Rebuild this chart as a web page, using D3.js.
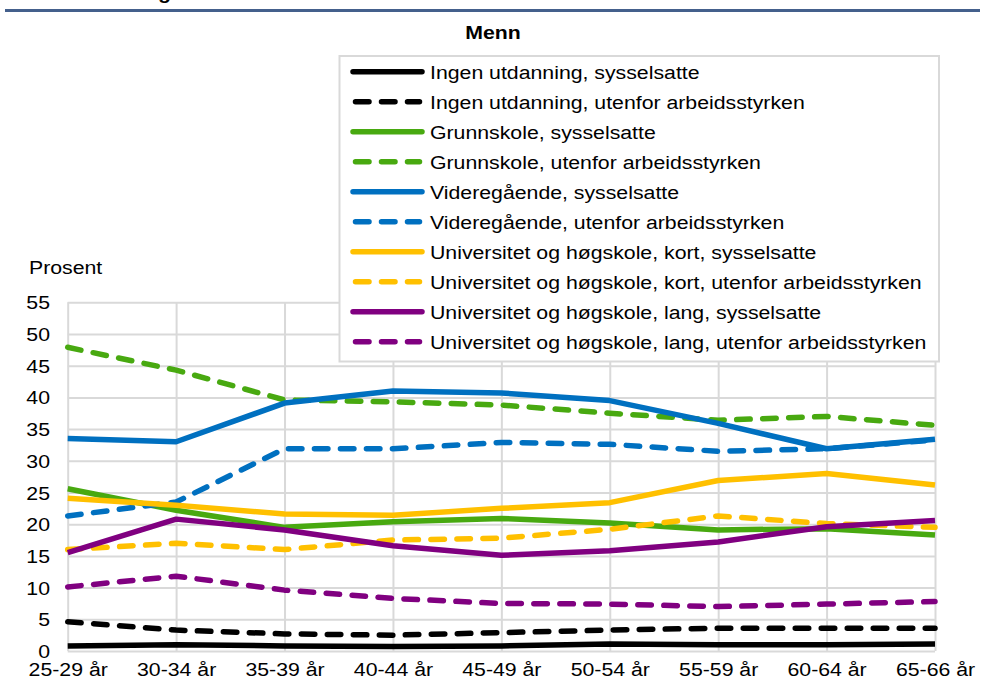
<!DOCTYPE html>
<html>
<head>
<meta charset="utf-8">
<script src="https://cdn.jsdelivr.net/npm/d3@7"></script>
<style>
  html, body { margin: 0; padding: 0; background: #fff; }
  svg { display: block; font-family: "Liberation Sans", Arial, sans-serif; }
</style>
</head>
<body>
<svg id="chart" width="982" height="680"></svg>
<script>
// ---- Data ----
const categories = ["25-29 år","30-34 år","35-39 år","40-44 år","45-49 år","50-54 år","55-59 år","60-64 år","65-66 år"];
const yTicks = [0,5,10,15,20,25,30,35,40,45,50,55];

const seriesNames = [
  "Ingen utdanning, sysselsatte",
  "Ingen utdanning, utenfor arbeidsstyrken",
  "Grunnskole, sysselsatte",
  "Grunnskole, utenfor arbeidsstyrken",
  "Videregående, sysselsatte",
  "Videregående, utenfor arbeidsstyrken",
  "Universitet og høgskole, kort, sysselsatte",
  "Universitet og høgskole, kort, utenfor arbeidsstyrken",
  "Universitet og høgskole, lang, sysselsatte",
  "Universitet og høgskole, lang, utenfor arbeidsstyrken"
];
const ingenSyss   = [0.8, 1.0, 0.8, 0.7, 0.8, 1.1, 1.0, 1.0, 1.1];
const ingenUtenf  = [4.6, 3.3, 2.7, 2.5, 2.9, 3.3, 3.6, 3.6, 3.6];
const grunnSyss   = [25.6, 22.2, 19.5, 20.4, 20.9, 20.2, 19.1, 19.3, 18.3];
const grunnUtenf  = [47.9, 44.3, 39.6, 39.3, 38.8, 37.5, 36.4, 37.0, 35.6];
const vgsSyss     = [33.5, 33.0, 39.1, 41.0, 40.7, 39.5, 35.9, 31.9, 33.4];
const vgsUtenf    = [21.3, 23.5, 31.9, 31.9, 32.9, 32.6, 31.5, 31.9, 33.3];
const uhKortSyss  = [24.1, 23.0, 21.6, 21.4, 22.5, 23.4, 26.9, 28.0, 26.2];
const uhKortUtenf = [16.0, 17.0, 16.0, 17.5, 17.8, 19.2, 21.3, 20.1, 19.5];
const uhLangSyss  = [15.5, 20.8, 19.1, 16.6, 15.1, 15.8, 17.2, 19.6, 20.6];
const uhLangUtenf = [10.1, 11.8, 9.6, 8.3, 7.5, 7.4, 7.0, 7.4, 7.8];

const seriesValues = [ingenSyss, ingenUtenf, grunnSyss, grunnUtenf, vgsSyss, vgsUtenf,
                      uhKortSyss, uhKortUtenf, uhLangSyss, uhLangUtenf];
const seriesColors = ["#000000","#000000","#48a910","#48a910","#0070c0","#0070c0",
                      "#ffc000","#ffc000","#800080","#800080"];
const seriesDashed = [false,true,false,true,false,true,false,true,false,true];

// ---- Layout ----
const svg = d3.select("#chart");
const plotL = 67.7, plotR = 935, plotT = 302.3, plotB = 651;
const fs = 19, sx = 1.12;   // font size and horizontal stretch
const gridColor = "#d9d9d9";

const x = d3.scalePoint().domain(categories).range([plotL, plotR]);
const y = d3.scaleLinear().domain([0, 55]).range([plotB, plotT]);

// Header rule and clipped heading remnant
svg.append("rect").attr("x", 5).attr("y", 9).attr("width", 975).attr("height", 3).attr("fill", "#44608c");
svg.append("text").attr("transform", "translate(158,-1) scale(" + sx + ",1)")
  .attr("font-size", fs).attr("font-weight", "bold").text("g");

// Title
svg.append("text").attr("transform", "translate(493,39) scale(" + sx + ",1)")
  .attr("text-anchor", "middle").attr("font-size", fs).attr("font-weight", "bold").text("Menn");

// Y-axis label
svg.append("text").attr("transform", "translate(29,274) scale(" + sx + ",1)")
  .attr("font-size", fs).text("Prosent");

// Horizontal gridlines + y labels
const yAxis = svg.append("g").attr("transform", `translate(${plotL},0)`)
  .call(d3.axisLeft(y).tickValues(yTicks).tickSize(-(plotR - plotL)).tickPadding(0));
yAxis.select(".domain").remove();
yAxis.selectAll(".tick line").attr("stroke", gridColor).attr("stroke-width", 2);
yAxis.selectAll(".tick text")
  .attr("x", null).attr("dy", null)
  .attr("transform", `translate(${50 - plotL},6.5) scale(${sx},1)`)
  .attr("text-anchor", "end").attr("fill", "#000")
  .attr("font-size", fs).attr("font-family", "'Liberation Sans', Arial, sans-serif");

// Vertical gridlines + x labels
const xAxis = svg.append("g").attr("transform", `translate(0,${plotB})`)
  .call(d3.axisBottom(x).tickSize(-(plotB - plotT)).tickPadding(0));
xAxis.select(".domain").remove();
xAxis.selectAll(".tick line").attr("stroke", gridColor).attr("stroke-width", 2);
xAxis.selectAll(".tick text")
  .attr("y", null).attr("dy", null)
  .attr("transform", `translate(0,24.5) scale(${sx},1)`)
  .attr("text-anchor", "middle").attr("fill", "#000")
  .attr("font-size", fs).attr("font-family", "'Liberation Sans', Arial, sans-serif");

// Lines
const line = d3.line().x((d, i) => x(categories[i])).y(d => y(d));
const lineW = 5.5;
seriesValues.forEach((vals, k) => {
  svg.append("path")
    .datum(vals)
    .attr("d", line)
    .attr("fill", "none")
    .attr("stroke", seriesColors[k])
    .attr("stroke-width", lineW)
    .attr("stroke-linejoin", "round")
    .attr("stroke-linecap", seriesDashed[k] ? "round" : "butt")
    .attr("stroke-dasharray", seriesDashed[k] ? "13.5,12.5" : null);
});

// Legend
const lg = svg.append("g");
lg.append("rect").attr("x", 339.5).attr("y", 56).attr("width", 599.5).attr("height", 305.5)
  .attr("fill", "#fff").attr("stroke", gridColor).attr("stroke-width", 2);
seriesNames.forEach((name, k) => {
  const cy = 71.7 + k * 30;
  lg.append("line")
    .attr("x1", seriesDashed[k] ? 355.5 : 353).attr("x2", seriesDashed[k] ? 419.5 : 422)
    .attr("y1", cy).attr("y2", cy)
    .attr("stroke", seriesColors[k]).attr("stroke-width", lineW)
    .attr("stroke-linecap", "round")
    .attr("stroke-dasharray", seriesDashed[k] ? "13.5,12.5" : null);
  lg.append("text")
    .attr("transform", `translate(430,${cy + 6.8}) scale(${sx},1)`)
    .attr("font-size", fs).text(name);
});
</script>
</body>
</html>
